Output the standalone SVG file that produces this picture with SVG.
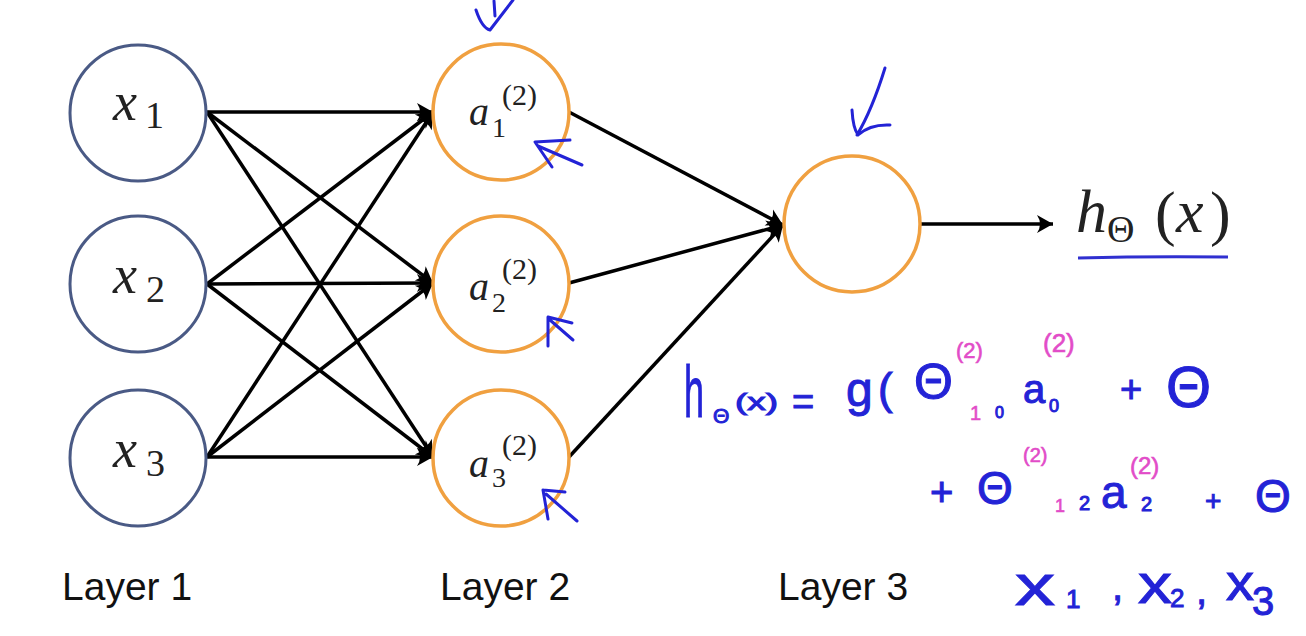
<svg xmlns="http://www.w3.org/2000/svg" width="1306" height="636" viewBox="0 0 1306 636">
<style>
.in{fill:#fff;stroke:#4a5a85;stroke-width:3}
.hid{fill:#fff;stroke:#f0a040;stroke-width:3.5}
.edge{stroke:#000;stroke-width:3.5;fill:none}
.m{font-family:"Liberation Serif",serif;fill:#222}
.mi{font-family:"Liberation Serif",serif;font-style:italic;fill:#222}
.lbl{font-family:"Liberation Sans",sans-serif;font-size:39px;fill:#111}
.hw{font-family:"Liberation Sans",sans-serif;fill:#2323d6;stroke:#2323d6;stroke-width:1}
.pk{font-family:"Liberation Sans",sans-serif;fill:#e24cc8;stroke:#e24cc8;stroke-width:0.6}
.pen{stroke:#2323d6;stroke-width:3;fill:none;stroke-linecap:round;stroke-linejoin:round}
</style>
<defs>
<marker id="ah" markerUnits="userSpaceOnUse" markerWidth="24" markerHeight="24" viewBox="-18 -12 20 24" refX="0" refY="0" orient="auto">
<path d="M0,0 L-16,-9 Q-10,0 -16,9 Z" fill="#000"/>
</marker>
</defs>
<rect width="1306" height="636" fill="#fff"/>
<g id="connectors">
<path class="edge" marker-end="url(#ah)" d="M207,112 L433,112"/>
<path class="edge" marker-end="url(#ah)" d="M207,112 L433,283"/>
<path class="edge" marker-end="url(#ah)" d="M207,112 L433,457"/>
<path class="edge" marker-end="url(#ah)" d="M207,284 L433,112"/>
<path class="edge" marker-end="url(#ah)" d="M207,284 L433,283"/>
<path class="edge" marker-end="url(#ah)" d="M207,284 L433,457"/>
<path class="edge" marker-end="url(#ah)" d="M207,457 L433,112"/>
<path class="edge" marker-end="url(#ah)" d="M207,457 L433,283"/>
<path class="edge" marker-end="url(#ah)" d="M207,457 L433,457"/>
<path class="edge" marker-end="url(#ah)" d="M569,112 L783,225"/>
<path class="edge" marker-end="url(#ah)" d="M569,283 L783,225"/>
<path class="edge" marker-end="url(#ah)" d="M569,457 L783,225"/>
<path class="edge" marker-end="url(#ah)" d="M920,224 L1053,224"/>
</g>
<g id="x1"><circle class="in" cx="138" cy="113" r="68"/><text class="mi" x="113" y="120" font-size="54">x</text><text class="m" x="145" y="128" font-size="38">1</text></g>
<g id="x2"><circle class="in" cx="138" cy="284" r="68"/><text class="mi" x="113" y="293" font-size="54">x</text><text class="m" x="146" y="302" font-size="38">2</text></g>
<g id="x3"><circle class="in" cx="138" cy="458" r="68"/><text class="mi" x="113" y="467" font-size="54">x</text><text class="m" x="146" y="476" font-size="38">3</text></g>
<g id="a1"><circle class="hid" cx="501" cy="112" r="68"/><text class="mi" x="469" y="125" font-size="40">a</text><text class="m" x="492" y="137" font-size="28">1</text><text class="m" x="502" y="105" font-size="30">(2)</text></g>
<g id="a2"><circle class="hid" cx="501" cy="284" r="68"/><text class="mi" x="469" y="300" font-size="40">a</text><text class="m" x="492" y="312" font-size="28">2</text><text class="m" x="502" y="279" font-size="30">(2)</text></g>
<g id="a3"><circle class="hid" cx="501" cy="458" r="68"/><text class="mi" x="469" y="477" font-size="40">a</text><text class="m" x="492" y="487" font-size="28">3</text><text class="m" x="502" y="455" font-size="30">(2)</text></g>
<g id="out"><circle class="hid" cx="852" cy="224" r="68"/></g>
<g id="hx"><text class="mi" x="1076" y="232" font-size="62">h</text><text class="m" x="1107" y="242" font-size="38">Θ</text><text class="m" x="1155" y="234" font-size="62">(</text><text class="mi" x="1176" y="232" font-size="62">x</text><text class="m" x="1210" y="234" font-size="62">)</text>
<path d="M1078,258 Q1150,256 1228,257" stroke="#3030d0" stroke-width="3" fill="none"/></g>
<g id="labels">
<text class="lbl" x="62" y="600">Layer 1</text>
<text class="lbl" x="440" y="600">Layer 2</text>
<text class="lbl" x="778" y="600">Layer 3</text>
</g>
<g id="annotations">
<path class="pen" d="M476,10 Q482,28 490,30 L513,0 M495,16 L494,1"/>
<path class="pen" d="M535,142 L570,140 M535,142 L552,167 M538,146 L582,165"/>
<path class="pen" d="M548,317 L572,323 M548,317 L548,346 M550,320 L573,340"/>
<path class="pen" d="M543,490 L565,492 M543,490 L548,519 M546,494 L577,521"/>
<path class="pen" d="M885,68 Q872,110 857,135 M852,110 Q853,128 858,135 Q870,124 890,125"/>
<text class="hw" transform="translate(684,417) scale(0.5,1)" font-size="72">h</text>
<text class="hw" x="713" y="423" font-size="21">Θ</text>
<text class="hw" x="735" y="410" font-size="24" textLength="43" lengthAdjust="spacingAndGlyphs">(x)</text>
<text class="hw" x="792" y="415" font-size="38">=</text>
<text class="hw" x="846" y="406" font-size="48">g</text>
<text class="hw" x="878" y="404" font-size="44">(</text>
<text class="hw" x="914" y="399" font-size="50">Θ</text>
<text class="pk" x="956" y="358" font-size="22">(2)</text>
<text class="pk" x="970" y="420" font-size="20">1</text>
<text class="hw" x="995" y="418" font-size="16">0</text>
<text class="hw" x="1023" y="403" font-size="40">a</text>
<text class="hw" x="1049" y="412" font-size="18">0</text>
<text class="pk" x="1043" y="352" font-size="26">(2)</text>
<text class="hw" x="1120" y="402" font-size="38">+</text>
<text class="hw" x="1166" y="407" font-size="58">Θ</text>
<text class="hw" x="930" y="506" font-size="40">+</text>
<text class="hw" x="977" y="504" font-size="46">Θ</text>
<text class="pk" x="1023" y="462" font-size="20">(2)</text>
<text class="pk" x="1055" y="512" font-size="18">1</text>
<text class="hw" x="1079" y="510" font-size="20">2</text>
<text class="hw" x="1101" y="508" font-size="46">a</text>
<text class="hw" x="1141" y="511" font-size="20">2</text>
<text class="pk" x="1130" y="474" font-size="24">(2)</text>
<text class="hw" x="1205" y="510" font-size="28">+</text>
<text class="hw" x="1255" y="512" font-size="46">Θ</text>
<text class="hw" x="1015" y="605" font-size="58" textLength="40" lengthAdjust="spacingAndGlyphs">x</text>
<text class="hw" x="1066" y="608" font-size="26">1</text>
<text class="hw" x="1112" y="600" font-size="40">,</text>
<text class="hw" x="1138" y="603" font-size="56" textLength="34" lengthAdjust="spacingAndGlyphs">x</text>
<text class="hw" x="1170" y="607" font-size="26">2</text>
<text class="hw" x="1196" y="604" font-size="40">,</text>
<text class="hw" x="1226" y="600" font-size="50" textLength="28" lengthAdjust="spacingAndGlyphs">x</text>
<text class="hw" x="1252" y="615" font-size="40">3</text>
</g>
</svg>
